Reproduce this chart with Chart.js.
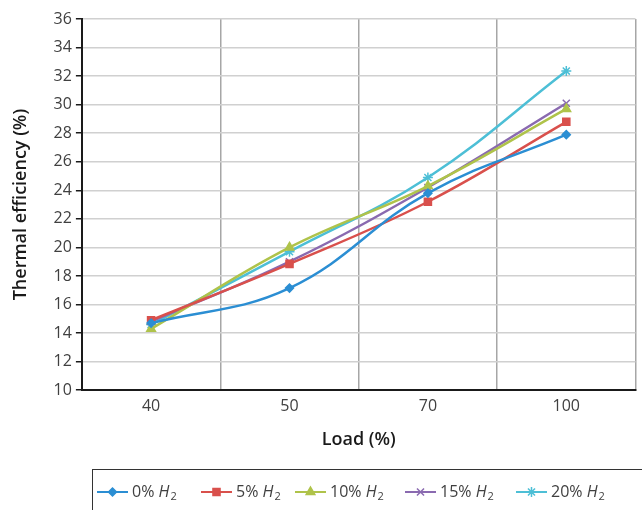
<!DOCTYPE html>
<html>
<head>
<meta charset="utf-8">
<script src="https://cdn.jsdelivr.net/npm/chart.js@4/dist/chart.umd.min.js"></script>
<style>
	html, body { margin: 0; padding: 0; background: #fff; }
	#wrap { position: relative; width: 642px; height: 510px; }
</style>
</head>
<body>
<div id="wrap"><canvas id="chart" width="642" height="510"></canvas></div>
<script>
//======================================================================================================
// Data
//======================================================================================================
var loads      = ["40", "50", "70", "100"];
var h2_0       = [14.7, 17.15, 23.8, 27.9];
var h2_5       = [14.9, 18.85, 23.2, 28.8];
var h2_10      = [14.3, 20.0, 24.3, 29.7];
var h2_15      = [14.8, 19.0, 24.2, 30.1];
var h2_20      = [14.6, 19.7, 24.9, 32.35];
var seriesPct  = ["0%", "5%", "10%", "15%", "20%"];
var yMin = 10, yMax = 36, yStep = 2;

var FONT = "'Open Sans', sans-serif";

function Make_Set(pct, data, color, style, radius)
{
	return {
		label           : pct + " H2",
		pct             : pct,
		data            : data,
		borderColor     : color,
		backgroundColor : color,
		borderWidth     : 2.5,
		pointStyle      : style,
		pointRadius     : radius,
		pointBorderWidth: 1.5,
		tension         : 0.4,
		fill            : false
	};
}

// Legend box with italic H and subscript 2, drawn on the canvas
var boxLegend = {
	id: "boxLegend",
	afterDraw: function(chart) {
		var ctx = chart.ctx;
		var xs  = [97, 201, 295, 405, 516];
		var y   = 492;
		ctx.save();
		ctx.strokeStyle = "#333";
		ctx.lineWidth = 1;
		ctx.strokeRect(92.5, 469.5, 560, 50);
		chart.data.datasets.forEach(function(ds, i) {
			var x = xs[i];
			ctx.strokeStyle = ds.borderColor;
			ctx.lineWidth = 2;
			ctx.beginPath();
			ctx.moveTo(x, y);
			ctx.lineTo(x + 31, y);
			ctx.stroke();
			ctx.fillStyle = ds.backgroundColor;
			ctx.lineWidth = 1.5;
			Chart.helpers.drawPoint(ctx, { pointStyle: ds.pointStyle, radius: ds.pointRadius, borderWidth: 1.5 }, x + 15.5, y);
			var tx = x + 35;
			ctx.fillStyle = "#404040";
			ctx.textBaseline = "middle";
			ctx.font = "16px " + FONT;
			ctx.fillText(ds.pct + " ", tx, y);
			tx += ctx.measureText(ds.pct + " ").width;
			ctx.font = "italic 16px " + FONT;
			ctx.fillText("H", tx, y);
			tx += ctx.measureText("H").width + 1;
			ctx.font = "11px " + FONT;
			ctx.fillText("2", tx, y + 5);
		});
		ctx.restore();
	}
};

var chart = new Chart(document.getElementById("chart"), {
	type: "line",
	data: {
		labels  : loads,
		datasets: [
			Make_Set(seriesPct[0], h2_0,  "#2b8ed3", "rectRot",  4),
			Make_Set(seriesPct[1], h2_5,  "#d9504c", "rect",     5),
			Make_Set(seriesPct[2], h2_10, "#afc34a", "triangle", 5),
			Make_Set(seriesPct[3], h2_15, "#8a6ab0", "crossRot", 5),
			Make_Set(seriesPct[4], h2_20, "#4dbfd6", "star",     5)
		]
	},
	plugins: [boxLegend],
	options: {
		responsive         : false,
		animation          : false,
		devicePixelRatio   : 1,
		layout             : { padding: { left: 6, right: 1, top: 19, bottom: 55 } },
		plugins: {
			legend : { display: false },
			tooltip: { enabled: false }
		},
		scales: {
			x: {
				offset: true,
				grid  : { offset: true, color: "#a6a6a6", lineWidth: 1.5, drawTicks: false },
				border: { color: "#1a1a1a", width: 2 },
				ticks : { color: "#404040", font: { family: FONT, size: 16 }, padding: 7 },
				title : { display: true, text: "Load (%)", color: "#1a1a1a", font: { family: FONT, size: 18, weight: "600" }, padding: { top: 6 } }
			},
			y: {
				min   : yMin,
				max   : yMax,
				grid  : { color: "#d0d0d0", lineWidth: 1.5, tickLength: 6, tickColor: "#1a1a1a" },
				border: { color: "#1a1a1a", width: 2 },
				ticks : { stepSize: yStep, color: "#404040", font: { family: FONT, size: 16 }, padding: 4 },
				title : { display: true, text: "Thermal efficiency (%)", color: "#1a1a1a", font: { family: FONT, size: 18, weight: "600" }, padding: { bottom: 18 } }
			}
		}
	}
});
</script>
</body>
</html>
